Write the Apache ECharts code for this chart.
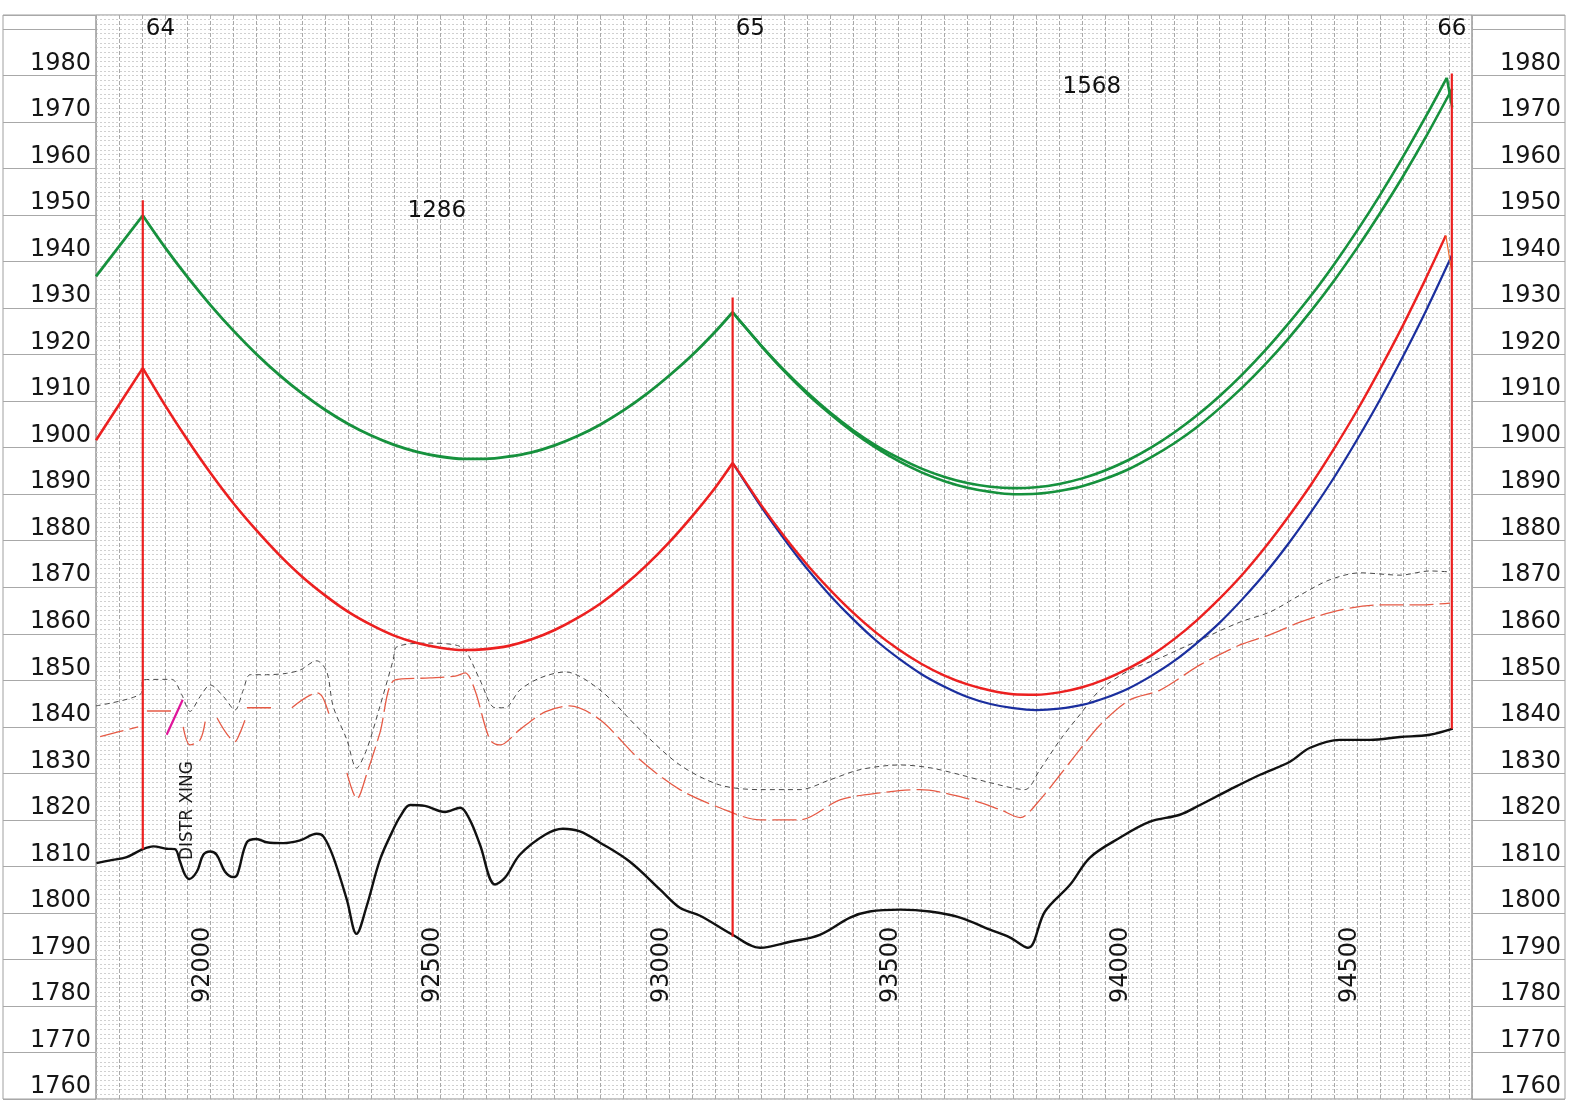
<!DOCTYPE html>
<html>
<head>
<meta charset="utf-8">
<script src="https://cdn.jsdelivr.net/npm/echarts@6/dist/echarts.min.js"></script>
<style>html,body{margin:0;padding:0;background:#fff;}#c{width:1569px;height:1101px;}</style>
</head>
<body>
<div id="c"></div>
<script>
// ---------- data ----------
var xLabelValues = [92000, 92500, 93000, 93500, 94000, 94500];
var towerNames = ['64', '65', '66'];
var towerStations = [91852, 93138, 94706];
var towerBase = [1813.7, 1794.9, 1839.6];
var towerTop = [1953.2, 1932.3, 1980.4];
var spanLabels = [[92493, 1950.8, '1286'], [93921, 1977.6, '1568']];
var noteLabels = [[91950, 1822.0, 'DISTR XING']];
var distrCrossing = [[91904, 1838.3], [91939, 1845.8]];

var greenSpan0 = [[91750, 1936.8], [91852, 1949.9]];
var greenSpan1 = [[91852, 1949.9], [91900, 1943.1], [91950, 1936.6], [92000, 1930.6], [92050, 1925.1], [92100, 1920.1], [92150, 1915.6], [92200, 1911.6], [92250, 1908.1], [92300, 1905.1], [92350, 1902.6], [92400, 1900.6], [92450, 1899.1], [92500, 1898.1], [92550, 1897.6], [92600, 1897.6], [92650, 1898.1], [92700, 1899.0], [92750, 1900.5], [92800, 1902.5], [92850, 1905.0], [92900, 1908.0], [92950, 1911.5], [93000, 1915.5], [93050, 1919.9], [93100, 1924.9], [93138, 1929.1]];
var greenSpan2a = [[93138, 1929.1], [93150, 1927.7], [93200, 1922.0], [93250, 1916.7], [93300, 1911.9], [93350, 1907.6], [93400, 1903.8], [93450, 1900.5], [93500, 1897.8], [93550, 1895.5], [93600, 1893.7], [93650, 1892.4], [93700, 1891.6], [93750, 1891.3], [93800, 1891.5], [93850, 1892.2], [93900, 1893.4], [93950, 1895.1], [94000, 1897.3], [94050, 1900.0], [94100, 1903.2], [94150, 1906.9], [94200, 1911.1], [94250, 1915.8], [94300, 1921.0], [94350, 1926.7], [94400, 1932.8], [94450, 1939.5], [94500, 1946.7], [94550, 1954.4], [94600, 1962.6], [94650, 1971.3], [94695, 1979.5]];
var greenTailA = [[94695, 1979.5], [94707, 1973.1]];
var greenSpan2b = [[93138, 1929.1], [93150, 1927.7], [93200, 1921.9], [93250, 1916.5], [93300, 1911.6], [93350, 1907.3], [93400, 1903.4], [93450, 1900.0], [93500, 1897.1], [93550, 1894.7], [93600, 1892.8], [93650, 1891.4], [93700, 1890.5], [93750, 1890.0], [93800, 1890.1], [93850, 1890.7], [93900, 1891.7], [93950, 1893.3], [94000, 1895.3], [94050, 1897.9], [94100, 1900.9], [94150, 1904.4], [94200, 1908.5], [94250, 1913.0], [94300, 1918.0], [94350, 1923.5], [94400, 1929.5], [94450, 1936.0], [94500, 1943.0], [94550, 1950.5], [94600, 1958.4], [94650, 1966.9], [94707, 1977.2]];

var redSpan0 = [[91750, 1901.6], [91852, 1917.1]];
var redSpan1 = [[91852, 1917.1], [91900, 1909.2], [91950, 1901.6], [92000, 1894.5], [92050, 1888.0], [92100, 1882.2], [92150, 1876.9], [92200, 1872.2], [92250, 1868.2], [92300, 1864.7], [92350, 1861.9], [92400, 1859.6], [92450, 1858.0], [92500, 1857.0], [92550, 1856.5], [92600, 1856.7], [92650, 1857.4], [92700, 1858.8], [92750, 1860.8], [92800, 1863.4], [92850, 1866.5], [92900, 1870.3], [92950, 1874.7], [93000, 1879.7], [93050, 1885.3], [93100, 1891.4], [93138, 1896.7]];
var redSpan2 = [[93138, 1896.7], [93150, 1895.0], [93200, 1887.7], [93250, 1881.0], [93300, 1874.9], [93350, 1869.5], [93400, 1864.6], [93450, 1860.3], [93500, 1856.6], [93550, 1853.5], [93600, 1851.0], [93650, 1849.1], [93700, 1847.8], [93750, 1847.0], [93800, 1846.9], [93850, 1847.4], [93900, 1848.5], [93950, 1850.2], [94000, 1852.5], [94050, 1855.3], [94100, 1858.8], [94150, 1862.9], [94200, 1867.6], [94250, 1872.8], [94300, 1878.7], [94350, 1885.2], [94400, 1892.2], [94450, 1899.9], [94500, 1908.1], [94550, 1917.0], [94600, 1926.4], [94650, 1936.5], [94693, 1945.6]];
var redTail = [[94693, 1945.6], [94706, 1937.7]];
var blueSpan2 = [[93138, 1896.7], [93150, 1894.9], [93200, 1887.3], [93250, 1880.4], [93300, 1874.0], [93350, 1868.3], [93400, 1863.2], [93450, 1858.6], [93500, 1854.7], [93550, 1851.3], [93600, 1848.6], [93650, 1846.4], [93700, 1844.9], [93750, 1844.0], [93800, 1843.6], [93850, 1843.9], [93900, 1844.7], [93950, 1846.2], [94000, 1848.2], [94050, 1850.9], [94100, 1854.1], [94150, 1858.0], [94200, 1862.4], [94250, 1867.5], [94300, 1873.1], [94350, 1879.4], [94400, 1886.3], [94450, 1893.7], [94500, 1901.8], [94550, 1910.4], [94600, 1919.7], [94650, 1929.5], [94706, 1941.3]];

var ground = [[91751, 1810.7], [91781, 1811.3], [91817, 1812.0], [91852, 1813.7], [91875, 1814.3], [91904, 1813.8], [91922, 1813.7], [91933, 1811.1], [91944, 1808.2], [91953, 1807.3], [91970, 1808.9], [91984, 1812.5], [91999, 1813.2], [92013, 1812.5], [92031, 1808.9], [92049, 1807.7], [92058, 1808.2], [92079, 1815.2], [92100, 1815.9], [92122, 1815.2], [92158, 1815.0], [92195, 1815.6], [92231, 1817.0], [92246, 1816.4], [92267, 1812.1], [92297, 1802.8], [92318, 1795.5], [92340, 1801.4], [92369, 1811.4], [92398, 1817.9], [92413, 1820.7], [92435, 1823.2], [92467, 1823.0], [92511, 1821.7], [92544, 1822.6], [92565, 1820.0], [92587, 1814.7], [92620, 1806.1], [92642, 1807.6], [92674, 1812.5], [92729, 1816.8], [92768, 1818.1], [92805, 1817.5], [92849, 1815.1], [92914, 1811.0], [92980, 1805.0], [93023, 1801.1], [93067, 1799.4], [93138, 1795.3], [93198, 1792.5], [93263, 1793.8], [93328, 1795.3], [93394, 1799.0], [93437, 1800.3], [93503, 1800.7], [93568, 1800.3], [93634, 1799.0], [93699, 1796.4], [93743, 1794.7], [93782, 1792.5], [93819, 1800.3], [93874, 1806.1], [93917, 1811.9], [93983, 1816.2], [94048, 1819.6], [94113, 1821.1], [94157, 1823.2], [94222, 1826.5], [94288, 1829.7], [94353, 1832.5], [94397, 1835.5], [94462, 1837.2], [94528, 1837.2], [94593, 1837.8], [94658, 1838.3], [94708, 1839.6]];

var grayProfile = [[91750, 1844.5], [91850, 1847.4], [91851, 1850.1], [91915, 1850.2], [91937, 1846.9], [91955, 1843.3], [91977, 1846.5], [91999, 1849.0], [92028, 1846.5], [92053, 1843.6], [92071, 1847.9], [92086, 1851.2], [92122, 1851.2], [92166, 1851.5], [92195, 1852.2], [92231, 1854.2], [92253, 1851.9], [92267, 1844.4], [92297, 1837.2], [92318, 1831.1], [92340, 1835.1], [92369, 1844.4], [92398, 1854.4], [92406, 1857.2], [92478, 1858.0], [92533, 1857.6], [92555, 1856.5], [92587, 1850.1], [92620, 1844.1], [92642, 1844.1], [92674, 1847.9], [92718, 1850.5], [92773, 1851.8], [92849, 1847.9], [92936, 1839.4], [93023, 1831.8], [93110, 1827.5], [93198, 1826.5], [93285, 1826.5], [93350, 1828.6], [93416, 1830.8], [93503, 1831.8], [93568, 1831.2], [93634, 1829.7], [93699, 1828.0], [93775, 1826.5], [93808, 1830.8], [93852, 1837.2], [93895, 1842.6], [93939, 1847.9], [94004, 1852.2], [94070, 1854.8], [94157, 1858.7], [94244, 1862.5], [94310, 1864.7], [94375, 1868.3], [94440, 1871.6], [94506, 1873.1], [94593, 1872.6], [94658, 1873.5], [94702, 1873.3]];

var salmonProfile = [[91759, 1837.9], [91842, 1840.0], null, [91861, 1843.4], [91927, 1843.4], null, [91940, 1840.0], [91955, 1836.1], [91977, 1837.2], [91988, 1841.1], null, [92014, 1841.9], [92053, 1836.8], [92064, 1838.7], [92075, 1841.5], null, [92079, 1844.1], [92145, 1844.1], null, [92177, 1844.1], [92232, 1847.3], [92245, 1846.2], [92260, 1842.1], null, [92297, 1830.1], [92319, 1824.5], [92341, 1830.1], [92369, 1838.7], [92402, 1850.1], [92478, 1850.5], [92533, 1850.9], [92555, 1851.6], [92576, 1847.9], [92609, 1837.2], [92631, 1836.1], [92674, 1839.4], [92729, 1843.2], [92783, 1844.5], [92849, 1841.5], [92936, 1832.9], [93023, 1826.5], [93110, 1822.6], [93198, 1820.0], [93285, 1820.0], [93372, 1824.3], [93459, 1825.8], [93546, 1826.5], [93634, 1825.0], [93721, 1822.2], [93765, 1820.5], [93808, 1824.3], [93852, 1829.7], [93895, 1835.1], [93939, 1840.4], [94004, 1845.8], [94070, 1847.9], [94157, 1853.3], [94244, 1857.6], [94310, 1859.8], [94375, 1862.5], [94462, 1865.1], [94549, 1866.2], [94637, 1866.2], [94702, 1866.6]];

// ---------- chart ----------
var GREEN = '#16913d', RED = '#ec2020', BLUE = '#1b2f9e';
var FONT = 'DejaVu Sans';
var Y_MIN = 1760, Y_MAX = 1993;

function lineSeries(name, data, color, width, extra) {
  var s = {
    name: name, type: 'line', xAxisIndex: 0, yAxisIndex: 0, data: data,
    showSymbol: false, symbol: 'none', smooth: true, animation: false, silent: true,
    lineStyle: { color: color, width: width }, z: 5
  };
  if (extra) { for (var k in extra) { if (k === 'lineStyle') { for (var j in extra.lineStyle) s.lineStyle[j] = extra.lineStyle[j]; } else s[k] = extra[k]; } }
  return s;
}

var series = [];
series.push(lineSeries('gray', grayProfile, '#4a4a4a', 1, { smooth: 0.3, lineStyle: { type: [5, 4] } }));
series.push(lineSeries('salmon', salmonProfile, '#e65a45', 1.3, { smooth: 0.3, connectNulls: false, lineStyle: { type: [24, 6] } }));
series.push(lineSeries('ground', ground, '#111', 2.4, { smooth: 0.35 }));
towerStations.forEach(function (s, i) {
  series.push(lineSeries('tower' + towerNames[i], [[s, towerBase[i]], [s, towerTop[i]]], RED, 2.2, { smooth: false, z: 6 }));
});
series.push(lineSeries('g0', greenSpan0, GREEN, 2.8, { smooth: false }));
series.push(lineSeries('g1', greenSpan1, GREEN, 2.8, { smooth: 0.3 }));
series.push(lineSeries('g2a', greenSpan2a, GREEN, 2.6, { smooth: 0.3 }));
series.push(lineSeries('g2aTail', greenTailA, GREEN, 2.6, { smooth: false }));
series.push(lineSeries('g2b', greenSpan2b, GREEN, 2.6, { smooth: 0.3 }));
series.push(lineSeries('r0', redSpan0, RED, 2.6, { smooth: false }));
series.push(lineSeries('r1', redSpan1, RED, 2.6, { smooth: 0.3 }));
series.push(lineSeries('b2', blueSpan2, BLUE, 2.2, { smooth: 0.3 }));
series.push(lineSeries('r2', redSpan2, RED, 2.4, { smooth: 0.3 }));
series.push(lineSeries('r2Tail', redTail, '#f06a2a', 1.2, { smooth: false }));
series.push(lineSeries('distr', distrCrossing, '#e0159a', 2.2, { smooth: false }));

series.push({
  type: 'scatter', xAxisIndex: 0, yAxisIndex: 0, symbolSize: 0, silent: true, animation: false, z: 8,
  itemStyle: { opacity: 1 },
  data: towerStations.map(function (s, i) {
    var item = { value: [s, 1990, towerNames[i]] };
    if (i === towerStations.length - 1) item.label = { position: 'inside' };
    return item;
  }),
  label: { show: true, position: 'right', distance: 3, formatter: function (p) { return p.data.value[2]; }, fontFamily: FONT, fontSize: 23, color: '#111' }
});
series.push({
  type: 'scatter', xAxisIndex: 0, yAxisIndex: 0, symbolSize: 0, silent: true, animation: false, z: 8,
  itemStyle: { opacity: 1 },
  data: spanLabels,
  label: { show: true, position: 'inside', formatter: function (p) { return p.data[2]; }, fontFamily: FONT, fontSize: 23, color: '#111' }
});
series.push({
  type: 'scatter', xAxisIndex: 0, yAxisIndex: 0, symbolSize: 0, silent: true, animation: false, z: 8,
  itemStyle: { opacity: 1 },
  data: noteLabels,
  label: { show: true, position: 'inside', rotate: 90, formatter: function (p) { return p.data[2]; }, fontFamily: FONT, fontSize: 17, color: '#1a1a1a' }
});

var sideYAxis = function (gi) {
  return {
    type: 'value', gridIndex: gi, min: Y_MIN, max: Y_MAX, interval: 10, position: 'right',
    axisLine: { show: false }, axisTick: { show: false },
    splitLine: { show: true, lineStyle: { color: '#a8a8a8', width: 1 } },
    axisLabel: {
      inside: true, margin: gi === 1 ? 5 : 4, verticalAlign: 'bottom', showMaxLabel: false,
      fontFamily: FONT, fontSize: 24, color: '#161616',
      formatter: function (v) { return v <= 1980 ? String(v) : ''; }
    }
  };
};
var hiddenX = function (gi) { return { type: 'value', gridIndex: gi, min: 0, max: 1, show: false }; };

var option = {
  backgroundColor: '#ffffff',
  animation: false,
  grid: [
    { left: 96, right: 97, top: 15, bottom: 2, show: true, borderColor: '#8c8c8c', borderWidth: 1 },
    { left: 3, width: 93, top: 15, bottom: 2, show: true, borderColor: '#a0a0a0', borderWidth: 1 },
    { left: 1472, right: 4, top: 15, bottom: 2, show: true, borderColor: '#a0a0a0', borderWidth: 1 }
  ],
  xAxis: [
    {
      type: 'value', gridIndex: 0, min: 91750, max: 94750, interval: 50,
      axisLine: { show: false }, axisTick: { show: false },
      splitLine: { show: true, lineStyle: { color: '#a9a9a9', width: 1, type: [4, 2] } },
      axisLabel: {
        inside: true, rotate: 90, margin: 96, verticalAlign: 'bottom', lineHeight: 15, showMinLabel: false, showMaxLabel: false,
        fontFamily: FONT, fontSize: 24, color: '#161616',
        formatter: function (v) { return xLabelValues.indexOf(v) >= 0 ? String(v) : ''; }
      }
    },
    hiddenX(1), hiddenX(2)
  ],
  yAxis: [
    {
      type: 'value', gridIndex: 0, min: Y_MIN, max: Y_MAX, interval: 1,
      axisLine: { show: false }, axisTick: { show: false }, axisLabel: { show: false },
      splitLine: { show: true, lineStyle: { color: '#d0d0d0', width: 1, type: [2, 2] } }
    },
    sideYAxis(1), sideYAxis(2)
  ],
  series: series
};
var chart = echarts.init(document.getElementById('c'), null, { renderer: 'canvas' });
chart.setOption(option);
</script>
</body>
</html>
